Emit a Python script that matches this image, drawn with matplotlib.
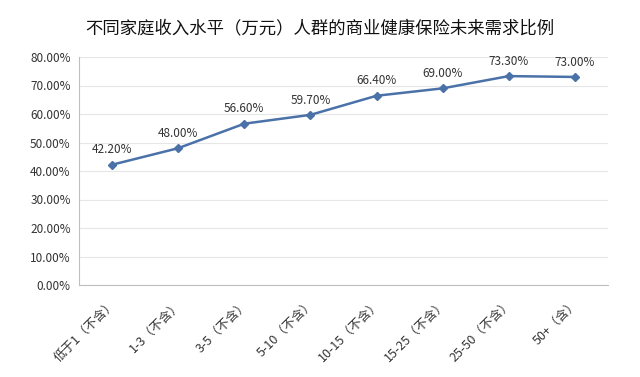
import matplotlib
matplotlib.use("Agg")
import matplotlib.pyplot as plt
import matplotlib.transforms as mtransforms
from matplotlib.ticker import FuncFormatter

plt.rcParams['font.family'] = ['Noto Sans CJK SC', 'DejaVu Sans']

categories = ["低于1（不含）", "1-3（不含）", "3-5（不含）", "5-10（不含）",
              "10-15（不含）", "15-25（不含）", "25-50（不含）", "50+（含）"]
values = [42.20, 48.00, 56.60, 59.70, 66.40, 69.00, 73.30, 73.00]
title = "不同家庭收入水平（万元）人群的商业健康保险未来需求比例"

fig = plt.figure(figsize=(6.4, 3.77), dpi=100)
ax = fig.add_axes([79 / 640, 1 - 285 / 377, 529 / 640, 228 / 377])

x = list(range(len(categories)))
ax.plot(x, values, color="#4A72A8", linewidth=1.8, marker="D", markersize=4, zorder=3)
for xi, v in zip(x, values):
    ax.annotate(f"{v:.2f}%", (xi, v), xytext=(0, 6), textcoords="offset points",
                ha="center", va="bottom", fontsize=8.5, color="#333333")

ax.set_xlim(-0.5, len(categories) - 0.5)
ax.set_ylim(0, 80)
ax.set_yticks(range(0, 81, 10))
ax.yaxis.set_major_formatter(FuncFormatter(lambda v, p: f"{v:.2f}%"))
ax.grid(axis="y", color="#E6E6E6", linewidth=0.8)
ax.set_axisbelow(True)
for s in ["top", "right"]:
    ax.spines[s].set_visible(False)
ax.spines["left"].set_color("#BFBFBF")
ax.spines["bottom"].set_color("#BFBFBF")
ax.tick_params(length=0, labelsize=8.5, colors="#333333")
ax.tick_params(axis="y", pad=6)

ax.set_xticks(x)
ax.set_xticklabels(categories, rotation=45, ha="right", va="center", rotation_mode="anchor",
                   fontsize=9, fontweight="medium")
offset = mtransforms.ScaledTranslation(2 / 100, -12 / 100, fig.dpi_scale_trans)
for lbl in ax.get_xticklabels():
    lbl.set_transform(lbl.get_transform() + offset)

fig.text(0.5, 1 - 28 / 377, title, ha="center", va="center", fontsize=12.5,
         fontweight="medium", color="#111111")

fig.savefig("out.png", dpi=100, facecolor="white")
